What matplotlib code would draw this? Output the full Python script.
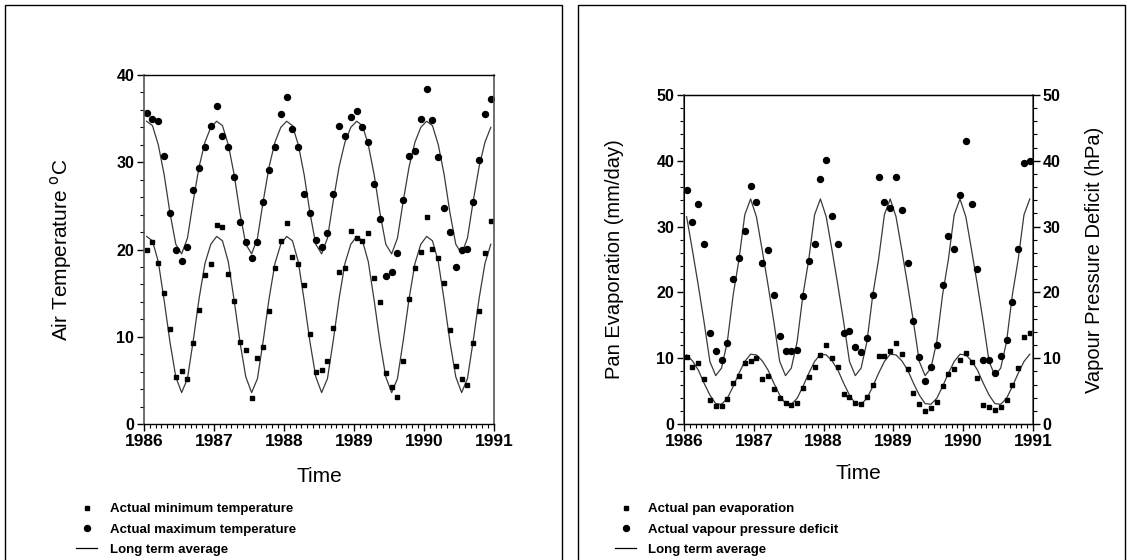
import matplotlib
matplotlib.use("Agg")
import matplotlib.pyplot as plt
import numpy as np
from matplotlib.ticker import MultipleLocator
from matplotlib.patches import Rectangle

plt.rcParams['font.family'] = ['Liberation Sans', 'DejaVu Sans']

# monthly observations, Jan 1986 - Dec 1990
months = np.arange(60)
time = 1986 + (months + 0.45) / 12

min_temp = [19.9, 20.9, 18.4, 15.0, 10.9, 5.35, 6.07, 5.12, 9.24, 13.07, 17.08, 18.3,
            22.8, 22.6, 17.16, 14.1, 9.36, 8.45, 2.94, 7.53, 8.79, 12.99, 17.84, 20.97,
            23.07, 19.18, 18.3, 15.93, 10.28, 5.92, 6.15, 7.18, 11.04, 17.38, 17.84, 22.1,
            21.3, 20.97, 21.85, 16.7, 13.95, 5.81, 4.28, 3.09, 7.22, 14.33, 17.9, 19.75,
            23.76, 20.06, 19.06, 16.12, 10.77, 6.61, 5.16, 4.43, 9.24, 12.95, 19.56, 23.3]

max_temp = [35.6, 35.0, 34.7, 30.75, 24.2, 20.0, 18.65, 20.3, 26.8, 29.3, 31.7, 34.1,
            36.5, 33.0, 31.7, 28.3, 23.1, 20.9, 19.06, 20.9, 25.4, 29.1, 31.8, 35.5,
            37.5, 33.85, 31.8, 26.4, 24.2, 21.1, 20.3, 21.9, 26.4, 34.2, 33.0, 35.15,
            35.9, 34.0, 32.35, 27.5, 23.5, 17.0, 17.45, 19.56, 25.7, 30.75, 31.3, 35.0,
            38.4, 34.85, 30.6, 24.7, 22.0, 18.0, 19.9, 20.05, 25.4, 30.25, 35.5, 37.2]

pan_evap = [10.2, 8.6, 9.2, 6.8, 3.65, 2.8, 2.8, 3.85, 6.2, 7.35, 9.2, 9.6,
            10.0, 6.8, 7.3, 5.3, 3.9, 3.25, 2.9, 3.25, 5.4, 7.1, 8.6, 10.5,
            12.0, 10.0, 8.7, 4.5, 4.15, 3.25, 3.0, 4.1, 5.9, 10.3, 10.3, 11.1,
            12.3, 10.6, 8.3, 4.75, 3.0, 2.0, 2.5, 3.35, 5.7, 7.55, 8.4, 9.7,
            10.75, 9.4, 6.95, 2.9, 2.6, 2.1, 2.6, 3.65, 5.9, 8.45, 13.2, 13.9]

vpd = [35.6, 30.7, 33.5, 27.4, 13.8, 11.15, 9.7, 12.25, 22.0, 25.2, 29.4, 36.2,
       33.8, 24.5, 26.4, 19.6, 13.4, 11.15, 11.15, 11.3, 19.4, 24.7, 27.3, 37.3,
       40.1, 31.6, 27.4, 13.8, 14.2, 11.65, 11.0, 13.1, 19.6, 37.5, 33.8, 32.9,
       37.5, 32.5, 24.4, 15.7, 10.2, 6.5, 8.7, 12.0, 21.1, 28.5, 26.6, 34.8,
       43.0, 33.4, 23.6, 9.8, 9.8, 7.7, 10.3, 12.8, 18.5, 26.6, 39.6, 39.9]

# long term monthly averages (Jan..Dec)
min_temp_avg = [21.5, 21.0, 18.6, 14.2, 9.4, 5.4, 3.6, 5.2, 9.6, 14.4, 18.4, 20.6]
max_temp_avg = [34.7, 34.2, 32.0, 28.6, 24.2, 20.6, 19.5, 21.3, 25.6, 29.5, 32.3, 34.0]
pan_avg = [10.5, 9.6, 8.2, 6.2, 4.4, 3.1, 3.0, 3.9, 5.7, 7.7, 9.5, 10.6]
vpd_avg = [31.5, 26.4, 21.1, 15.5, 9.5, 7.35, 8.5, 12.5, 19.6, 25.0, 31.8, 34.2]

years = [1986, 1987, 1988, 1989, 1990, 1991]

line_col = '#3a3a3a'
tick_font = dict(fontweight='bold', fontsize=11.5)


def style_axes(ax, ymax):
    ax.set_xlim(1986, 1991)
    ax.set_ylim(0, ymax)
    ax.set_xticks(years)
    ax.set_xticklabels([str(y) for y in years], fontweight='bold', fontsize=12.5)
    ax.xaxis.set_minor_locator(MultipleLocator(1 / 12))
    ax.set_yticks(np.arange(0, ymax + 1, 10))
    ax.set_yticklabels([str(v) for v in range(0, ymax + 1, 10)], **tick_font)
    ax.yaxis.set_minor_locator(MultipleLocator(2))
    ax.tick_params(which='major', direction='out', length=5, width=1, pad=2)
    ax.tick_params(which='minor', direction='out', length=3, width=0.8)
    for side in ['left', 'right']:
        ax.spines[side].set_color('#555555')
        ax.spines[side].set_linewidth(1.2)
    for side in ['top', 'bottom']:
        ax.spines[side].set_color('black')
        ax.spines[side].set_linewidth(1)
    ax.set_xlabel('Time', fontsize=15, va='center')
    ax.xaxis.set_label_coords(0.5, -0.149)


fig = plt.figure(figsize=(11.31, 5.6), dpi=100)

# panel frames
for x0, x1 in [(5, 562), (578, 1125)]:
    fig.add_artist(Rectangle((x0 / 1131, -0.05), (x1 - x0) / 1131, 1.05 - 5 / 560,
                             transform=fig.transFigure, fill=False,
                             edgecolor='black', linewidth=1))

# ---- left: air temperature
ax1 = fig.add_axes([144 / 1131, 136 / 560, 350 / 1131, 349 / 560])
ax1.plot(time, np.tile(max_temp_avg, 5), color=line_col, lw=0.9)
ax1.plot(time, np.tile(min_temp_avg, 5), color=line_col, lw=0.9)
l_min, = ax1.plot(time, min_temp, 's', color='black', ms=3.2, ls='none',
                  label='Actual minimum temperature')
l_max, = ax1.plot(time, max_temp, 'o', color='black', ms=4.3, ls='none',
                  label='Actual maximum temperature')
l_avg1, = ax1.plot([], [], color='black', lw=0.9, label='Long term average')
style_axes(ax1, 40)
ax1.set_ylabel('Air Temperature $^{\\mathrm{o}}$C', fontsize=15, va='center')
ax1.yaxis.set_label_coords(-0.237, 0.5)

fig.legend(handles=[l_min, l_max, l_avg1], loc='upper left',
           bbox_to_anchor=(76 / 1131, 1 - 503 / 560), frameon=False,
           prop=dict(weight='bold', size=9.5), handlelength=1.6,
           handletextpad=1.0, labelspacing=0.62, borderpad=0, borderaxespad=0)

# ---- right: pan evaporation and vapour pressure deficit
ax2 = fig.add_axes([684 / 1131, 136 / 560, 349 / 1131, 329 / 560])
ax3 = ax2.twinx()
ax2.plot(time, np.tile(pan_avg, 5), color=line_col, lw=0.9)
ax3.plot(time, np.tile(vpd_avg, 5), color=line_col, lw=0.9)
l_pan, = ax2.plot(time, pan_evap, 's', color='black', ms=3.2, ls='none',
                  label='Actual pan evaporation')
l_vpd, = ax3.plot(time, vpd, 'o', color='black', ms=4.3, ls='none',
                  label='Actual vapour pressure deficit')
l_avg2, = ax2.plot([], [], color='black', lw=0.9, label='Long term average')
style_axes(ax2, 50)
ax3.set_ylim(0, 50)
ax3.set_yticks(np.arange(0, 51, 10))
ax3.set_yticklabels([str(v) for v in range(0, 51, 10)], **tick_font)
ax3.yaxis.set_minor_locator(MultipleLocator(2))
ax3.tick_params(which='major', direction='out', length=5, width=1, pad=2)
ax3.tick_params(which='minor', direction='out', length=3, width=0.8)
ax2.set_ylabel('Pan Evaporation (mm/day)', fontsize=14.5, va='center')
ax2.yaxis.set_label_coords(-0.198, 0.5)
ax3.set_ylabel('Vapour Pressure Deficit (hPa)', fontsize=14.5, va='center', rotation=90)
ax3.yaxis.set_label_coords(1.175, 0.5)

fig.legend(handles=[l_pan, l_vpd, l_avg2], loc='upper left',
           bbox_to_anchor=(615 / 1131, 1 - 503 / 560), frameon=False,
           prop=dict(weight='bold', size=9.5), handlelength=1.6,
           handletextpad=0.9, labelspacing=0.62, borderpad=0, borderaxespad=0)

fig.savefig('out.png', dpi=100)
